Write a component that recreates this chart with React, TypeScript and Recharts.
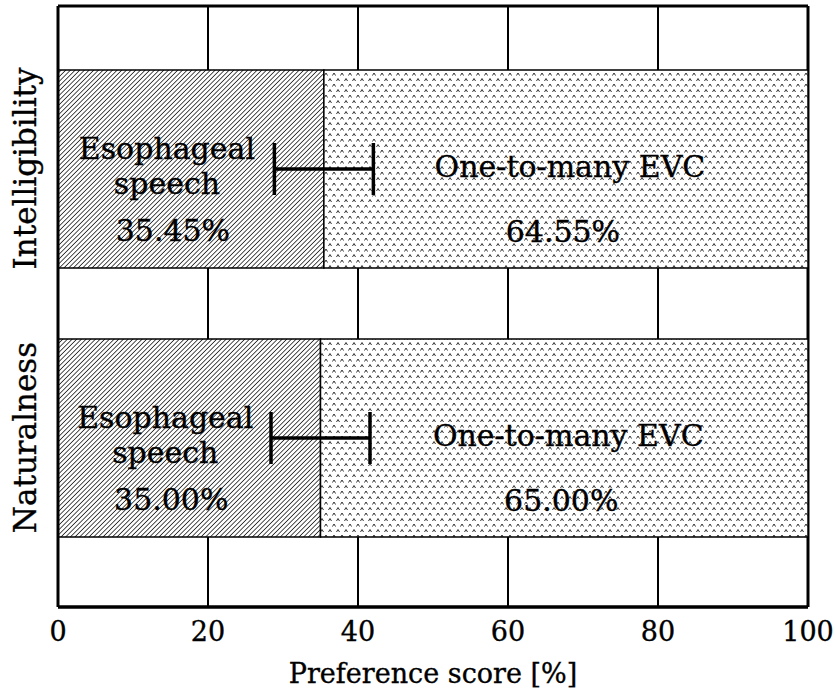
import { BarChart, Bar, XAxis, YAxis, CartesianGrid, ErrorBar, LabelList } from "recharts";

const categories = ["Intelligibility", "Naturalness"];
const esophageal = [35.45, 35.0];
const oneToMany = [64.55, 65.0];
const ciHalf = [6.6, 6.6];
const xTicks = [0, 20, 40, 60, 80, 100];

const FONT = "'DejaVu Serif', serif";
const FS = 30;

const data = categories.map((name, i) => ({
  name,
  eso: esophageal[i],
  evc: oneToMany[i],
  err: ciHalf[i],
}));

// slightly heavier glyphs than plain DejaVu Serif
const ink = { fill: "#000", stroke: "#000", strokeWidth: 0.35 };

function CategoryTick(props: any) {
  const { y, payload } = props;
  const x = 36;
  return (
    <text
      x={x}
      y={y}
      transform={`rotate(-90, ${x}, ${y})`}
      textAnchor="middle"
      fontFamily={FONT}
      fontSize={31}
      {...ink}
    >
      {payload.value}
    </text>
  );
}

// three-line label inside the esophageal segment
function EsoLabel(props: any) {
  const { x, y, width, value } = props;
  const cx = x + width / 2 - 24;
  const common = { textAnchor: "middle" as const, fontFamily: FONT, fontSize: FS, ...ink };
  return (
    <g>
      <text x={cx} y={y + 89} {...common}>Esophageal</text>
      <text x={cx} y={y + 124} {...common}>speech</text>
      <text x={cx + 6} y={y + 171} {...common}>{`${Number(value).toFixed(2)}%`}</text>
    </g>
  );
}

function EvcLabel(props: any) {
  const { x, y, width, value } = props;
  const cx = x + width / 2;
  const common = { textAnchor: "middle" as const, fontFamily: FONT, fontSize: FS, ...ink };
  return (
    <g>
      <text x={cx + 4} y={y + 107} {...common}>One-to-many EVC</text>
      <text x={cx - 3} y={y + 172} {...common}>{`${Number(value).toFixed(2)}%`}</text>
    </g>
  );
}

// outer box: top and bottom edge plus the right edge of the plot area
const frameRows = ({ offset }: any) => [offset.top, offset.top + offset.height];
const frameCols = ({ offset }: any) => [offset.left + offset.width];

export default function App() {
  return (
    <div style={{ position: "absolute", left: 0, top: 0, width: 836, height: 695, background: "#fff" }}>
      <BarChart
        width={836}
        height={695}
        data={data}
        layout="vertical"
        margin={{ top: 6, right: 28, left: 0, bottom: 0 }}
        barSize={198}
      >
        <defs>
          <pattern id="hatch" width="3.3" height="3.3" patternUnits="userSpaceOnUse" patternTransform="rotate(45)">
            <rect width="3.3" height="3.3" fill="#fff" />
            <line x1="0" y1="0" x2="0" y2="3.3" stroke="#222" strokeWidth="1.6" />
          </pattern>
          <pattern id="carets" width="8" height="11" patternUnits="userSpaceOnUse">
            <rect width="8" height="11" fill="#fff" />
            <path d="M0.5,4 L2,1.5 L3.5,4" stroke="#333" strokeWidth="1" fill="none" />
            <path d="M4.5,9.5 L6,7 L7.5,9.5" stroke="#333" strokeWidth="1" fill="none" />
          </pattern>
        </defs>
        <CartesianGrid horizontal={false} stroke="#000" strokeWidth={2} />
        <CartesianGrid
          horizontalCoordinatesGenerator={frameRows}
          verticalCoordinatesGenerator={frameCols}
          stroke="#000"
          strokeWidth={3}
        />
        <XAxis
          type="number"
          domain={[0, 100]}
          ticks={xTicks}
          tickLine={false}
          tickMargin={9}
          axisLine={{ stroke: "#000", strokeWidth: 3 }}
          tick={{ fontSize: 27, fontFamily: FONT, ...ink }}
          height={88}
          label={{
            value: "Preference score [%]",
            position: "insideBottom",
            offset: 12,
            fontSize: 27,
            fontFamily: FONT,
            ...ink,
          }}
        />
        <YAxis
          type="category"
          dataKey="name"
          width={58}
          padding={{ top: 28, bottom: 35 }}
          tickLine={false}
          axisLine={{ stroke: "#000", strokeWidth: 3 }}
          tick={<CategoryTick />}
        />
        <Bar dataKey="eso" stackId="s" fill="url(#hatch)" stroke="#000" strokeWidth={1.5} isAnimationActive={false}>
          <LabelList dataKey="eso" content={<EsoLabel />} />
          <ErrorBar dataKey="err" direction="x" width={26} stroke="#000" strokeWidth={3.5} />
        </Bar>
        <Bar dataKey="evc" stackId="s" fill="url(#carets)" stroke="#000" strokeWidth={1.5} isAnimationActive={false}>
          <LabelList dataKey="evc" content={<EvcLabel />} />
        </Bar>
      </BarChart>
    </div>
  );
}
